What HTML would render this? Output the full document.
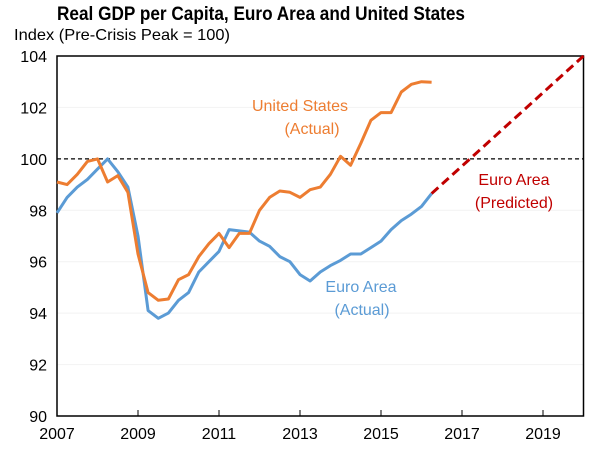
<!DOCTYPE html>
<html><head><meta charset="utf-8"><style>
body{margin:0;background:#fff;}
svg{display:block;font-family:"Liberation Sans",sans-serif;}
</style></head><body>
<svg id="chart" width="600" height="449" viewBox="0 0 600 449">
<text x="261" y="20" text-anchor="middle" font-size="19" font-weight="bold" textLength="408" lengthAdjust="spacingAndGlyphs">Real GDP per Capita, Euro Area and United States</text>
<text x="14" y="40" font-size="16" textLength="216" lengthAdjust="spacingAndGlyphs">Index (Pre-Crisis Peak = 100)</text>
<g id="grid"></g><g id="axes"></g><g id="series"></g>
<text x="300" y="111" text-anchor="middle" font-size="16" fill="#ED7D31">United States</text>
<text x="312" y="134" text-anchor="middle" font-size="16" fill="#ED7D31">(Actual)</text>
<text x="361" y="292" text-anchor="middle" font-size="16" fill="#5B9BD5">Euro Area</text>
<text x="362" y="315" text-anchor="middle" font-size="16" fill="#5B9BD5">(Actual)</text>
<text x="514" y="185" text-anchor="middle" font-size="16" fill="#C00000">Euro Area</text>
<text x="514" y="208" text-anchor="middle" font-size="16" fill="#C00000">(Predicted)</text>
</svg>
<script>
const yTicks=[90,92,94,96,98,100,102,104];
const xTicks=[2007,2009,2011,2013,2015,2017,2019];
const startYear=2007;
const usValues=[99.1,99.0,99.4,99.9,100.0,99.1,99.35,98.7,96.3,94.8,94.5,94.55,95.3,95.5,96.2,96.7,97.1,96.55,97.1,97.1,98.0,98.5,98.75,98.7,98.5,98.8,98.9,99.4,100.1,99.75,100.6,101.5,101.8,101.8,102.6,102.9,103.0,102.98];
const euroValues=[97.9,98.5,98.9,99.2,99.6,100.0,99.5,98.9,97.0,94.1,93.8,94.0,94.5,94.8,95.6,96.0,96.4,97.25,97.2,97.15,96.8,96.6,96.2,96.0,95.5,95.25,95.6,95.85,96.05,96.3,96.3,96.55,96.8,97.25,97.6,97.85,98.15,98.65];
const predYears=[2016.25,2020];
const predValues=[98.65,104];
const peak=100;
const L=57,R=583.5,T=56,B=416;
const X=t=>L+(t-2007)/(2020-2007)*(R-L);
const Y=v=>B-(v-90)/(104-90)*(B-T);
const NS="http://www.w3.org/2000/svg";
function mk(tag,attrs,parent){const e=document.createElementNS(NS,tag);for(const k in attrs)e.setAttribute(k,attrs[k]);document.getElementById(parent).appendChild(e);return e;}
yTicks.forEach(v=>{
  if(v!==90&&v!==104){const g=mk('line',{x1:L,x2:R,y1:Y(v),y2:Y(v),stroke:'#f2f2f2','stroke-width':1},'grid');
  
  }
  const t=mk('text',{x:47,y:Y(v)+6,'text-anchor':'end','font-size':16},'axes');t.textContent=v;
  
  
});
xTicks.forEach(yr=>{
  const tk=mk('line',{x1:X(yr),x2:X(yr),y1:B,y2:B-6,stroke:'#000','stroke-width':1},'axes');
  
  
  const t=mk('text',{x:X(yr),y:B+23,'text-anchor':'middle','font-size':16},'axes');t.textContent=yr;
  
  
});
const box=mk('rect',{x:L,y:T,width:R-L,height:B-T,fill:'none',stroke:'#000','stroke-width':1.5},'axes');


const pk=mk('line',{x1:L,x2:R,y1:Y(peak),y2:Y(peak),stroke:'#000','stroke-width':1.2,'stroke-dasharray':'4,3'},'series');


function pts(vals){return vals.map((v,i)=>X(startYear+i*0.25).toFixed(1)+','+Y(v).toFixed(1)).join(' ');}
const eu=mk('polyline',{points:pts(euroValues),fill:'none',stroke:'#5B9BD5','stroke-width':3,'stroke-linejoin':'round'},'series');


const us=mk('polyline',{points:pts(usValues),fill:'none',stroke:'#ED7D31','stroke-width':3,'stroke-linejoin':'round'},'series');


const pr=mk('polyline',{points:predYears.map((t,i)=>X(t)+','+Y(predValues[i])).join(' '),fill:'none',stroke:'#C00000','stroke-width':3,'stroke-dasharray':'9,5'},'series');


</script>
</body></html>
